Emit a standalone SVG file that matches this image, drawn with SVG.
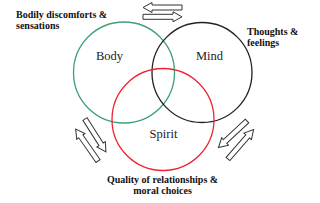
<svg xmlns="http://www.w3.org/2000/svg" xmlns:xlink="http://www.w3.org/1999/xlink" width="320" height="203" viewBox="0 0 320 203">
<style>
.circ{fill:none;stroke-width:1.3}
.lbl{font-family:"Liberation Serif","Times New Roman",serif;font-size:12.5px;fill:#222}
.note{font-family:"Liberation Serif","Times New Roman",serif;font-size:10px;font-weight:bold;fill:#111}
.arr{fill:#fff;stroke:#333;stroke-width:1}
</style>
<defs>
<path id="blk" d="M0,-2.5 H30 V-5 L39,0 L30,5 V2.5 H0 Z"/>
</defs>
<rect width="320" height="203" fill="#fff"/>
<g id="body">
<circle class="circ" cx="124" cy="72.5" r="50.5" stroke="#3f9f78"/>
<text class="lbl" x="109.5" y="60" text-anchor="middle">Body</text>
</g>
<g id="mind">
<circle class="circ" cx="202" cy="72.5" r="50" stroke="#222"/>
<text class="lbl" x="209.5" y="60" text-anchor="middle">Mind</text>
</g>
<g id="spirit">
<circle class="circ" cx="163" cy="119.5" r="51" stroke="#ee2233"/>
<text class="lbl" x="163.5" y="138" text-anchor="middle">Spirit</text>
</g>
<g id="note-body">
<text class="note" x="16" y="18">Bodily discomforts &amp;</text>
<text class="note" x="16" y="29">sensations</text>
</g>
<g id="note-mind">
<text class="note" x="247" y="34.5">Thoughts &amp;</text>
<text class="note" x="247" y="45.5">feelings</text>
</g>
<g id="note-spirit">
<text class="note" x="162.5" y="182.5" text-anchor="middle">Quality of relationships &amp;</text>
<text class="note" x="162.5" y="193.5" text-anchor="middle">moral choices</text>
</g>
<g id="connectors" class="arr">
<use xlink:href="#blk" transform="translate(182,7.5) rotate(180)"/>
<use xlink:href="#blk" transform="translate(143,16.8)"/>
<use xlink:href="#blk" transform="translate(85,119) rotate(57.5)"/>
<use xlink:href="#blk" transform="translate(98,161) rotate(-124.9)"/>
<use xlink:href="#blk" transform="translate(247,121) rotate(137)"/>
<use xlink:href="#blk" transform="translate(228,159) rotate(-49)"/>
</g>
</svg>
